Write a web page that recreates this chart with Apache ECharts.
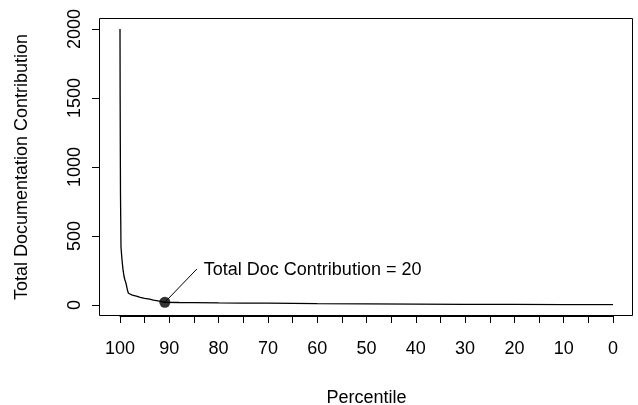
<!DOCTYPE html>
<html>
<head>
<meta charset="utf-8">
<script src="https://cdn.jsdelivr.net/npm/echarts@6/dist/echarts.min.js"></script>
<style>
html,body{margin:0;padding:0;background:#fff;}
#chart{width:638px;height:405px;}
</style>
</head>
<body>
<div id="chart"></div>
<script>
var percentiles = [100, 99.97, 99.93, 99.9, 99.85, 99.8, 99.6, 99.4, 99.2, 99.0, 98.8, 98.5, 98.3, 97.5, 96.5, 95.9, 95, 94, 93.2, 92, 90.9, 88, 85, 80, 75, 70, 65, 60, 50, 40, 30, 20, 10, 0];
var contributions = [2000, 1500, 1100, 800, 620, 420, 330, 260, 210, 181, 160, 110, 85, 72, 62, 56, 48, 42, 36, 28, 20, 18, 17, 15, 14, 13, 12, 10, 8, 6, 5, 4, 3, 2];
var yTicks = [0, 500, 1000, 1500, 2000];
var highlightPoint = [90.9, 20];
var annotationEnd = [84.4, 261];
var annotationTextPos = [83.0, 254];
var annotationText = 'Total Doc Contribution = 20';
var xTitle = 'Percentile';
var yTitle = 'Total Documentation Contribution';

var lineData = percentiles.map(function (p, i) { return [p, contributions[i]]; });
var font = 'Liberation Sans, Arial, Helvetica, sans-serif';

var chart = echarts.init(document.getElementById('chart'), null, {renderer: 'canvas'});
chart.setOption({
  animation: false,
  backgroundColor: '#fff',
  grid: {left: 120, right: 25, top: 29, bottom: 100, containLabel: false, outerBoundsMode: 'none'},
  xAxis: {
    type: 'value', inverse: true, min: 0, max: 100, interval: 5, offset: 11,
    position: 'bottom',
    axisLine: {show: true, onZero: false, lineStyle: {color: '#000', width: 1}},
    axisTick: {show: true, inside: false, length: 7, lineStyle: {color: '#000', width: 1}},
    axisLabel: {
      color: '#000', fontSize: 18, fontFamily: font, margin: 24,
      formatter: function (v) { return v % 10 === 0 ? String(v) : ''; }
    },
    splitLine: {show: false},
    name: xTitle, nameLocation: 'middle', nameGap: 73,
    nameTextStyle: {color: '#000', fontSize: 18, fontFamily: font}
  },
  yAxis: {
    type: 'value', min: 0, max: 2000, interval: 500, offset: 21,
    position: 'left',
    axisLine: {show: true, onZero: false, lineStyle: {color: '#000', width: 1}},
    axisTick: {show: true, inside: false, length: 7, lineStyle: {color: '#000', width: 1}},
    axisLabel: {color: '#000', fontSize: 18, fontFamily: font, rotate: 90, margin: 15,
      formatter: function (v) { return String(v); }},
    splitLine: {show: false},
    name: yTitle, nameLocation: 'middle', nameGap: 68, nameRotate: 90,
    nameTextStyle: {color: '#000', fontSize: 18, fontFamily: font}
  },
  series: [
    {
      type: 'line', data: lineData, showSymbol: false, symbol: 'none',
      lineStyle: {color: '#000', width: 1.3}, z: 2
    },
    {
      type: 'line', data: [highlightPoint, annotationEnd], showSymbol: false, symbol: 'none',
      lineStyle: {color: '#000', width: 1}, z: 2
    },
    {
      type: 'scatter', data: [highlightPoint], symbol: 'circle', symbolSize: 11,
      itemStyle: {color: '#000'}, z: 3
    }
  ]
});

// Box, y ticks and annotation text placed through the chart's own scales
var graphics = [{
  type: 'rect', silent: true,
  shape: {x: 99.5, y: 18.5, width: 533, height: 297},
  style: {fill: 'none', stroke: '#000', lineWidth: 1}
}];
yTicks.forEach(function (v) {
  var py = Math.round(chart.convertToPixel({yAxisIndex: 0}, v)) + 0.5;
  graphics.push({
    type: 'line', silent: true,
    shape: {x1: 92, y1: py, x2: 99.5, y2: py},
    style: {stroke: '#000', lineWidth: 1}
  });
});
var tp = chart.convertToPixel({gridIndex: 0}, annotationTextPos);
graphics.push({
  type: 'text', silent: true, x: tp[0], y: tp[1],
  style: {text: annotationText, fill: '#000', font: '18px ' + font,
    textAlign: 'left', textVerticalAlign: 'middle', verticalAlign: 'middle'}
});
chart.setOption({graphic: graphics});
</script>
</body>
</html>
